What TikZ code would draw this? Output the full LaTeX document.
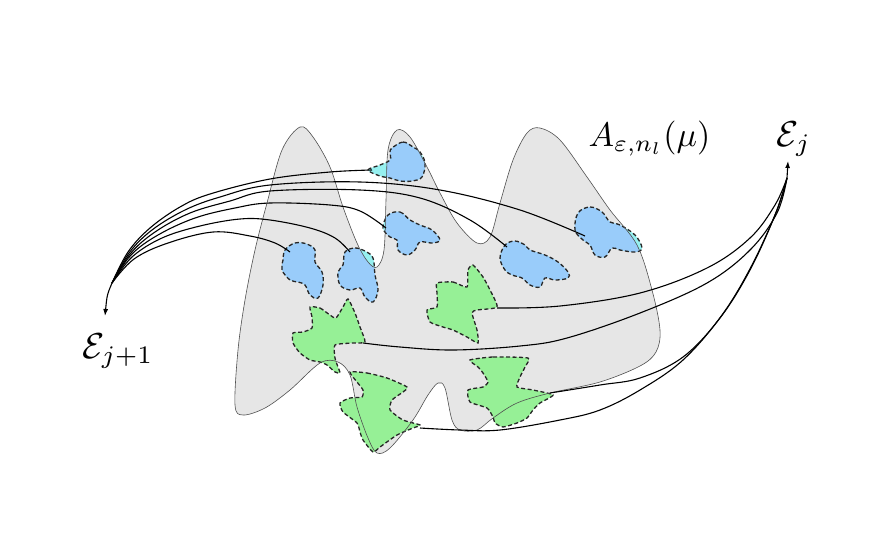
\documentclass[tikz,border=0pt]{standalone}
\usetikzlibrary{arrows.meta}
\definecolor{regiongray}{RGB}{230,230,230}
\definecolor{blobblue}{RGB}{153,204,250}
\definecolor{blobcyan}{RGB}{150,240,240}
\definecolor{blobgreen}{RGB}{150,240,150}
\definecolor{outlinegray}{RGB}{80,80,80}
\newcommand{\regionpath}{plot[smooth cycle, tension=0.55] coordinates {(300,127) (313,137) (330,167) (343,207) (357,243) (368,262) (377,267) (384,250) (386,200) (388,150) (397,130) (410,137) (427,167) (440,193) (457,223) (477,243) (490,237) (500,203) (513,160) (527,133) (540,128) (560,140) (587,177) (610,210) (637,245) (652,290) (660,330) (656,352) (640,366) (600,382) (550,393) (517,403) (493,418) (477,430) (460,430) (452,420) (445,388) (438,383) (428,395) (413,420) (390,448) (377,453) (368,438) (357,407) (350,375) (338,362) (320,363) (290,390) (265,408) (243,415) (235,405) (238,350) (245,300) (255,250) (267,203) (282,150)}}
\newcommand{\blueA}{plot[smooth cycle, tension=0.6] coordinates {(392,148) (403,142) (413,147) (420,152) (425,163) (422,177) (412,181) (400,181) (390,178) (380,176) (368,170) (380,165) (390,160) (390,152)}}
\newcommand{\blueB}{plot[smooth cycle, tension=0.6] coordinates {(388,215) (400,212) (410,220) (420,225) (432,230) (440,240) (432,243) (420,242) (415,250) (407,255) (398,250) (397,240) (390,237) (383,228)}}
\newcommand{\blueC}{plot[smooth cycle, tension=0.6] coordinates {(285,250) (295,243) (307,244) (315,250) (315,262) (322,272) (323,285) (318,298) (310,295) (305,285) (298,282) (290,280) (282,270) (283,260)}}
\newcommand{\blueD}{plot[smooth cycle, tension=0.6] coordinates {(345,252) (355,248) (365,251) (373,258) (375,275) (378,290) (373,302) (365,297) (360,288) (350,290) (340,285) (338,272) (343,265)}}
\newcommand{\blueE}{plot[smooth cycle, tension=0.6] coordinates {(505,245) (515,241) (525,245) (530,250) (545,255) (558,262) (568,272) (568,278) (555,280) (545,278) (540,287) (530,285) (522,278) (512,275) (505,270) (500,258)}}
\newcommand{\blueF}{plot[smooth cycle, tension=0.6] coordinates {(578,213) (590,207) (602,212) (610,222) (620,225) (635,235) (642,248) (635,252) (620,250) (612,248) (605,257) (595,255) (590,245) (583,240) (575,230)}}
\newcommand{\greenA}{plot[smooth cycle, tension=0.35] coordinates {(310,307) (320,308) (330,315) (336,318) (343,307) (348,299) (355,313) (360,327) (365,342) (353,343) (335,345) (335,358) (338,367) (340,373) (335,372) (327,365) (320,362) (310,360) (300,353) (293,343) (293,333) (303,332) (312,328) (312,317)}}
\newcommand{\greenB}{plot[smooth cycle, tension=0.35] coordinates {(437,283) (453,282) (467,287) (468,270) (473,265) (483,277) (490,290) (497,307) (477,310) (472,313) (477,330) (478,343) (467,337) (453,330) (443,327) (430,322) (427,310) (437,307) (437,293)}}
\newcommand{\greenC}{plot[smooth cycle, tension=0.35] coordinates {(350,372) (367,373) (387,378) (407,387) (403,392) (392,400) (390,410) (403,420) (420,425) (413,428) (397,435) (380,447) (373,452) (363,440) (360,432) (357,423) (343,412) (340,403) (350,398) (362,397) (363,390) (357,382)}}
\newcommand{\greenD}{plot[smooth cycle, tension=0.35] coordinates {(470,360) (493,357) (528,358) (525,367) (520,377) (517,387) (533,390) (553,395) (540,403) (533,410) (527,418) (517,423) (503,427) (495,423) (493,417) (487,408) (470,402) (468,390) (483,387) (488,382) (483,373) (478,367)}}
\begin{document}
\begin{tikzpicture}[x=1pt,y=-1pt,
  blobline/.style={draw=black!85, line width=1.3pt, dash pattern=on 4pt off 2.5pt},
  link/.style={black, line width=1.1pt},
  tip/.style={-{Latex[length=7pt,width=5pt]}},
  region/.style={draw=outlinegray, line width=0.6pt},
  label/.style={anchor=base west, inner sep=0, scale=3.4}
]
\useasboundingbox (0,0) rectangle (891,557);
% gray region
\fill[regiongray] \regionpath;
% blue blobs: cyan outside region, blue inside
\fill[blobcyan] \blueA; \fill[blobcyan] \blueB; \fill[blobcyan] \blueC;
\fill[blobcyan] \blueD; \fill[blobcyan] \blueE; \fill[blobcyan] \blueF;
\begin{scope}
  \clip \regionpath;
  \fill[blobblue] \blueA; \fill[blobblue] \blueB; \fill[blobblue] \blueC;
  \fill[blobblue] \blueD; \fill[blobblue] \blueE; \fill[blobblue] \blueF;
\end{scope}
\draw[blobline] \blueA; \draw[blobline] \blueB; \draw[blobline] \blueC;
\draw[blobline] \blueD; \draw[blobline] \blueE; \draw[blobline] \blueF;
% green blobs
\filldraw[fill=blobgreen, blobline] \greenA;
\filldraw[fill=blobgreen, blobline] \greenB;
\filldraw[fill=blobgreen, blobline] \greenC;
\filldraw[fill=blobgreen, blobline] \greenD;
% region outline on top
\draw[region] \regionpath;
% labels
\node[label] (lab) at (588,146) {$A_{\varepsilon,n_l}(\mu)$};
\node[label, scale=1.06] (ej) at (776,146) {$\mathcal{E}_j$};
\node[label, scale=1.06] (ejone) at (82,358) {$\mathcal{E}_{j+1}$};
% convergence points
\coordinate (J1) at (112,283);
\coordinate (T1) at (105,316);
\coordinate (J2) at (787,178);
\coordinate (T2) at (788,161);
% left bundle
\draw[link] plot[smooth, tension=0.6] coordinates {(J1) (128,252) (150,228) (180,207) (210,194) (270,179) (330,172) (372,170)};
\draw[link] plot[smooth, tension=0.6] coordinates {(J1) (129,253) (152,230) (185,210) (220,197) (270,185) (360,182) (440,190) (520,210) (585,236)};
\draw[link] plot[smooth, tension=0.6] coordinates {(J1) (130,254) (155,232) (190,213) (230,201) (270,191) (360,190) (420,198) (470,220) (507,247)};
\draw[link] plot[smooth, tension=0.6] coordinates {(J1) (131,255) (158,235) (195,218) (235,208) (270,203) (330,205) (360,211) (386,228)};
\draw[link] plot[smooth, tension=0.6] coordinates {(J1) (132,257) (162,238) (200,226) (240,219) (270,220) (310,228) (335,238) (350,252)};
\draw[link] plot[smooth, tension=0.6] coordinates {(J1) (134,259) (168,243) (213,232) (250,236) (275,243) (290,252)};
\draw[link,tip] (J1) .. controls (107,295) .. (T1);
% right bundle
\draw[link] plot[smooth, tension=0.6] coordinates {(497,308) (560,306) (640,293) (707,268) (750,238) (775,205) (J2)};
\draw[link] plot[smooth, tension=0.6] coordinates {(363,343) (400,347) (453,350) (520,346) (567,338) (640,313) (707,283) (750,250) (777,213) (J2)};
\draw[link] plot[smooth, tension=0.6] coordinates {(550,393) (600,385) (640,378) (683,357) (720,318) (750,270) (775,215) (J2)};
\draw[link] plot[smooth, tension=0.6] coordinates {(420,428) (460,430) (500,430) (560,420) (600,410) (640,390) (683,360) (722,315) (752,265) (777,210) (J2)};
\draw[link,tip] (J2) -- (T2);
\end{tikzpicture}
\end{document}
